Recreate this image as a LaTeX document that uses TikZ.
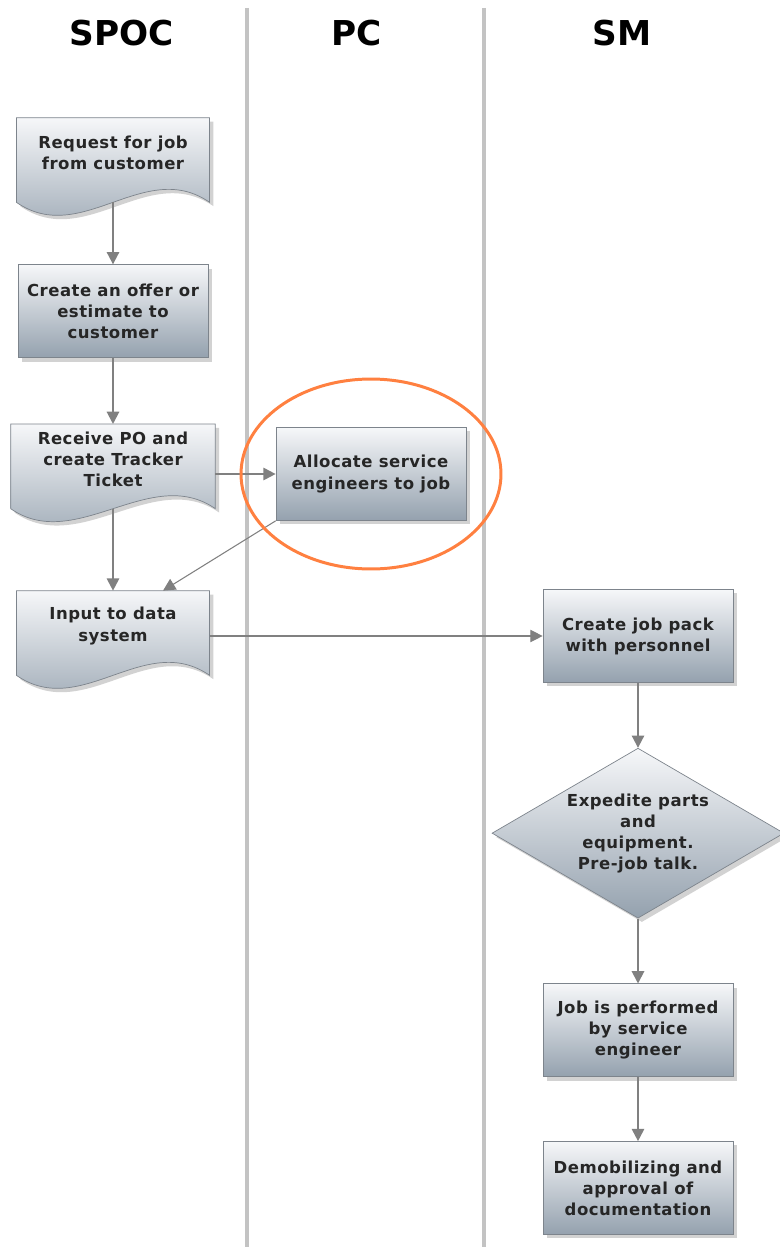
\documentclass[tikz,border=0pt]{standalone}
\usepackage{fontspec}
\setmainfont{DejaVu Sans}
\newfontfamily\boxfont[LetterSpace=3]{DejaVu Sans}
\usetikzlibrary{positioning, arrows.meta, shapes.geometric, calc, shadows, backgrounds}

\definecolor{boxtop}{RGB}{246,247,249}
\definecolor{boxbot}{RGB}{148,161,174}
\definecolor{boxline}{RGB}{125,132,140}
\definecolor{arrgray}{RGB}{128,128,128}
\definecolor{lanegray}{RGB}{195,195,195}
\definecolor{hilite}{RGB}{255,128,64}

\begin{document}
\begin{tikzpicture}[
    x=0.02cm, y=-0.02cm,
    node distance=1.3cm,
    lane/.style={font=\bfseries\fontsize{19.5}{22}\selectfont},
    laneline/.style={draw=lanegray, line width=1.8pt},
    box/.style={rectangle, draw=boxline, line width=0.4pt,
                top color=boxtop, bottom color=boxbot,
                drop shadow={shadow xshift=2.2pt, shadow yshift=-2.2pt, opacity=0.35},
                minimum height=1.86cm, minimum width=3.8cm, inner sep=2pt,
                align=center, text=black!85, font=\boxfont\bfseries\fontsize{9.4}{12}\selectfont},
    docbox/.style={rectangle, minimum height=1.4cm, minimum width=3.85cm, inner sep=2pt,
                align=center, text=black!85, font=\boxfont\bfseries\fontsize{9.4}{12}\selectfont},
    docfill/.style={draw=boxline, line width=0.4pt,
                top color=boxtop, bottom color=boxbot,
                drop shadow={shadow xshift=2.2pt, shadow yshift=-2.2pt, opacity=0.35}},
    decision/.style={diamond, aspect=1.72, draw=boxline, line width=0.4pt,
                top color=boxtop, bottom color=boxbot,
                drop shadow={shadow xshift=2.2pt, shadow yshift=-2.2pt, opacity=0.35},
                minimum width=5.84cm, minimum height=3.4cm, inner sep=0pt,
                align=center, text=black!85, font=\boxfont\bfseries\fontsize{9.4}{12}\selectfont},
    arr/.style={-{Triangle[length=7pt, width=7pt]}, draw=arrgray, line width=1.1pt},
    thinarr/.style={-{Triangle[length=7pt, width=7pt]}, draw=arrgray, line width=0.6pt},
    hiring/.style={draw=hilite, line width=1.7pt},
]
\useasboundingbox (0,0) rectangle (779,1247);
\begin{scope}[on background layer]
  \fill[white] (0,0) rectangle (779,1247);
  \draw[laneline] (247,8) -- (247,1247);
  \draw[laneline] (484,8) -- (484,1247);
\end{scope}

% swimlane headers
\node[lane] (spoc) at (122,33) {SPOC};
\node[lane] (pc) at (357,33) {PC};
\node[lane] (sm) at (622,33) {SM};

% SPOC lane
\node[docbox] (req) at (113,153) {Request for job\\from customer};
\node[box, below=1.52cm of req] (offer) {Create an offer or\\estimate to\\customer};
\node[docbox, minimum width=4.08cm, below=1.32cm of offer] (recv) {Receive PO and\\create Tracker\\Ticket};
\node[docbox, below=1.92cm of recv] (input) {Input to data\\system};

% PC lane
\node[box] (alloc) at (371,474) {Allocate service\\engineers to job};

% SM lane
\node[box] (pack) at (638,636) {Create job pack\\with personnel};
\node[decision, below=of pack] (expd) {Expedite parts\\and\\equipment.\\Pre-job talk.};
\node[box, below=of expd] (perf) {Job is performed\\by service\\engineer};
\node[box, below=1.28cm of perf] (demob) {Demobilizing and\\approval of\\documentation};

% document shapes behind the text
\begin{scope}[on background layer]
  \foreach \d in {req, recv, input}
    \path[docfill] (\d.north west) -- (\d.north east) -- ([yshift=-0.28cm]\d.south east)
      .. controls +(-1.3cm,0.9cm) and +(1.3cm,-0.9cm) .. ([yshift=-0.28cm]\d.south west) -- cycle;
\end{scope}

\draw[arr] ([yshift=-0.28cm]req.south) -- (offer);
\draw[arr] (offer) -- (recv);
\draw[arr] (recv.east |- alloc.west) -- (alloc);
\draw[arr] ([yshift=-0.28cm]recv.south) -- (input);
\draw[thinarr] (alloc.south west) -- ([xshift=1cm]input.north);
\draw[thinarr] (input.east |- pack.west) -- (pack);
\draw[arr] (pack) -- (expd);
\draw[arr] (expd) -- (perf);
\draw[arr] (perf) -- (demob);

\draw[hiring] (alloc.center) ellipse [x radius=2.6cm, y radius=1.9cm];
\end{tikzpicture}
\end{document}
